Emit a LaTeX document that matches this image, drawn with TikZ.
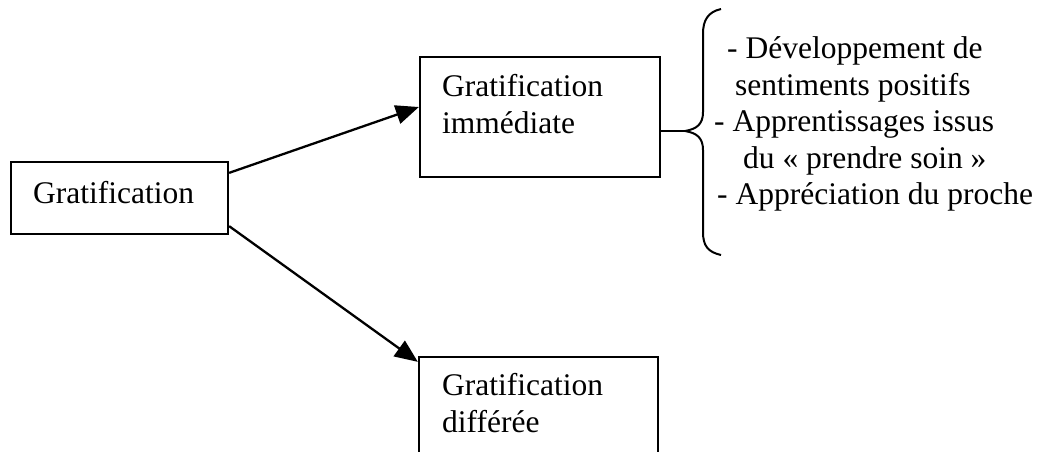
\documentclass[tikz,border=0pt]{standalone}
\usepackage{fontspec}
\setmainfont{Liberation Serif}
\usetikzlibrary{arrows.meta,calc}
\begin{document}
\begin{tikzpicture}[x=1pt,y=-1pt,
  boxed/.style={draw, line width=2.3pt, inner sep=0pt},
  label/.style={anchor=base west, inner sep=0pt, font=\fontsize{31.5}{37}\selectfont},
  link/.style={line width=2.3pt, -{Triangle[length=23pt,width=19pt]}}]
\useasboundingbox (0,0) rectangle (1042,451);
\clip (0,0) rectangle (1042,451);
% boxes
\node[boxed, minimum width=217pt, minimum height=72pt] (g) at (119.5,198) {};
\node[boxed, minimum width=240pt, minimum height=120pt] (imm) at (540,117) {};
\node[boxed, minimum width=239pt, minimum height=190pt] (dif) at (538.5,452) {};
% box texts
\node[label] (gt) at (33,203) {Gratification};
\node[label] (it1) at (442,96) {Gratification};
\node[label] (it2) at (442,133) {immédiate};
\node[label] (dt1) at (442,395) {Gratification};
\node[label] (dt2) at (442,432) {différée};
% arrows
\draw[link] ($(g.north east)+(0,12)$) -- ($(imm.west)+(0,-10)$);
\draw[link] ($(g.south east)+(0,-9)$) -- ($(dif.north west)+(0,6)$);
% brace
\coordinate (bt) at (685,131);
\draw[line width=2pt] ($(imm.east)+(0,14)$) -- (bt);
\draw[line width=2pt] (721,9) .. controls (708,12) and (703,20) .. (703,34)
  -- (703,112) .. controls (703,124) and (697,129) .. (bt)
  .. controls (697,133) and (703,138) .. (703,150)
  -- (703,232) .. controls (703,246) and (708,252) .. (721,255);
% list
\node[label] (l1) at (727,58) {- Développement de};
\node[label] (l2) at (735,95) {sentiments positifs};
\node[label] (l3) at (714,131) {- Apprentissages issus};
\node[label] (l4) at (743,168) {du « prendre soin »};
\node[label] (l5) at (717,204) {- Appréciation du proche};
\end{tikzpicture}
\end{document}
